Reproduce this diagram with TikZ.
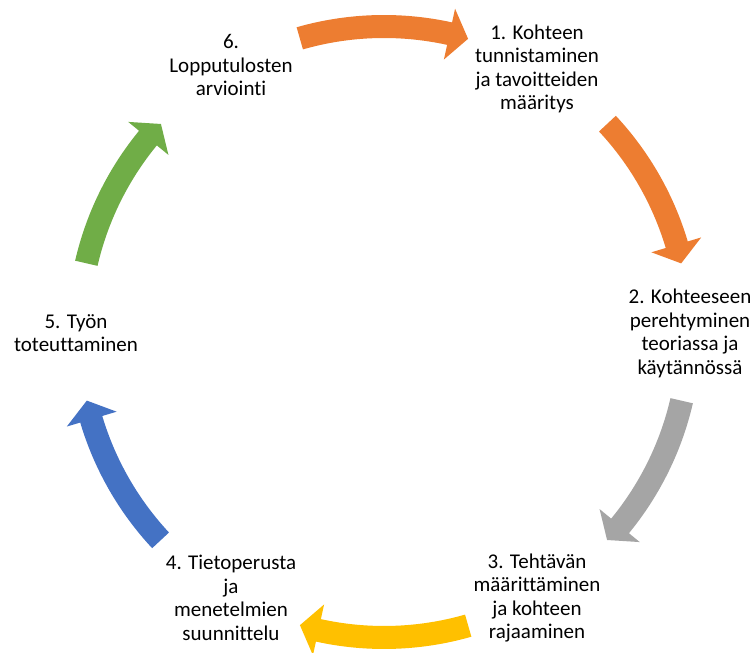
\documentclass[tikz,border=0pt]{standalone}
\usepackage{fontspec}
\setmainfont{Carlito}[Ligatures={NoCommon}]
\definecolor{accOrange}{HTML}{ED7D31}
\definecolor{accGray}{HTML}{A5A5A5}
\definecolor{accYellow}{HTML}{FFC000}
\definecolor{accBlue}{HTML}{4472C4}
\definecolor{accGreen}{HTML}{70AD47}
% curved block arrow: #1 tail angle, #2 tip angle, #3 colour (clockwise)
\newcommand{\cyclearrow}[3]{%
  \pgfmathsetmacro{\hb}{#2+3.6}%
  \fill[#3] (#1:317pt) arc[start angle=#1, end angle=\hb, radius=317pt]
    -- (\hb:331pt) -- (#2:305pt) -- (\hb:279pt) -- (\hb:294pt)
    arc[start angle=\hb, end angle=#1, radius=294pt] -- cycle;}
\begin{document}
\begin{tikzpicture}[x=1pt,y=1pt,
  steptext/.style={align=center, inner sep=0pt, text=black,
    font=\fontsize{21}{23.5}\selectfont}]
\useasboundingbox (0,0) rectangle (756,653);
\begin{scope}[shift={(384,321)}]
  \cyclearrow{106}{74}{accOrange}
  \cyclearrow{43}{13}{accOrange}
  \cyclearrow{-13}{-43}{accGray}
  \cyclearrow{-74}{-106}{accYellow}
  \cyclearrow{-137}{-167}{accBlue}
  \cyclearrow{167}{137}{accGreen}
\end{scope}
\node[steptext] (n1) at (537,584) {1. Kohteen\\tunnistaminen\\ja tavoitteiden\\määritys};
\node[steptext] (n2) at (690,319.5) {2. Kohteeseen\\perehtyminen\\teoriassa ja\\käytännössä};
\node[steptext] (n3) at (537,55) {3. Tehtävän\\määrittäminen\\ja kohteen\\rajaaminen};
\node[steptext] (n4) at (231,55) {4. Tietoperusta\\ja\\menetelmien\\suunnittelu};
\node[steptext] (n5) at (76,320) {5. Työn\\toteuttaminen};
\node[steptext] (n6) at (231,588) {6.\\Lopputulosten\\arviointi};
\end{tikzpicture}
\end{document}
